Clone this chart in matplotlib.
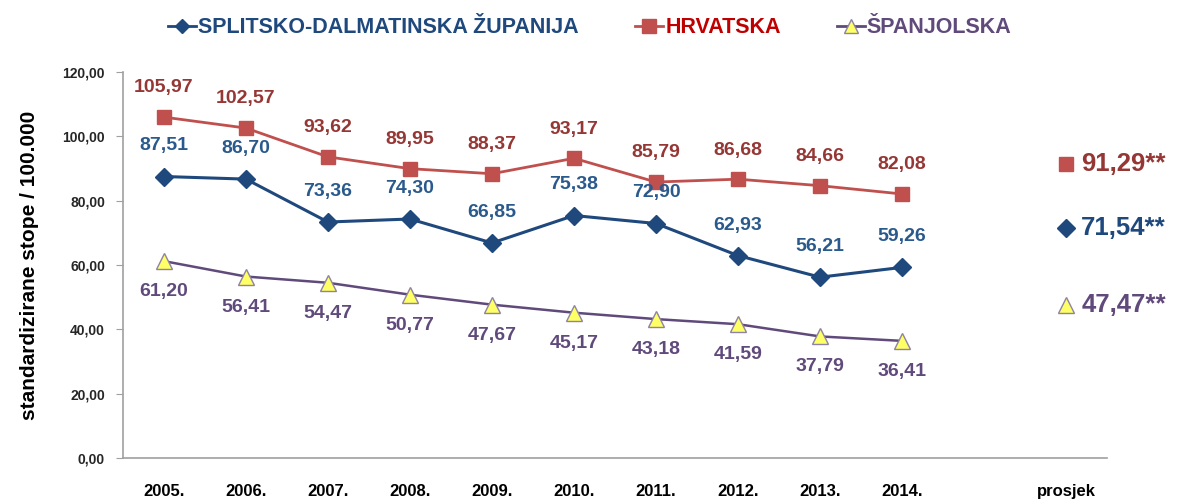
import matplotlib
matplotlib.use("Agg")
import matplotlib.pyplot as plt
from matplotlib.lines import Line2D

years = ["2005.", "2006.", "2007.", "2008.", "2009.", "2010.", "2011.", "2012.", "2013.", "2014."]
avg_label = "prosjek"
splitsko = [87.51, 86.70, 73.36, 74.30, 66.85, 75.38, 72.90, 62.93, 56.21, 59.26]
hrvatska = [105.97, 102.57, 93.62, 89.95, 88.37, 93.17, 85.79, 86.68, 84.66, 82.08]
spanjolska = [61.20, 56.41, 54.47, 50.77, 47.67, 45.17, 43.18, 41.59, 37.79, 36.41]
avg_splitsko = 71.54
avg_hrvatska = 91.29
avg_spanjolska = 47.47
names = ["SPLITSKO-DALMATINSKA ŽUPANIJA", "HRVATSKA", "ŠPANJOLSKA"]
yticks = [0, 20, 40, 60, 80, 100, 120]

FONT = ["Liberation Sans", "DejaVu Sans"]
plt.rcParams["font.family"] = FONT

blue = "#1F497D"
blue_txt = "#2A5A8C"
red = "#C0504D"
red_txt = "#953735"
purple = "#604A7B"
yellow = "#FFFF66"

fig = plt.figure(figsize=(11.87, 4.99), dpi=100)
ax = fig.add_axes([0.1036, 0.0822, 0.829, 0.7735])

x = list(range(len(years)))
avg_x = len(years) + 1

ax.plot(x, hrvatska, color=red, lw=2, marker="s", ms=10, mfc=red, mec=red, zorder=3)
ax.plot(x, splitsko, color=blue, lw=2.2, marker="D", ms=9, mfc=blue, mec=blue, zorder=3)
ax.plot(x, spanjolska, color=purple, lw=1.8, marker="^", ms=11, mfc=yellow, mec="#8E83A3", zorder=3)

fmt = lambda v: f"{v:.2f}".replace(".", ",")
lbl = dict(ha="center", va="center", fontsize=14, fontweight="bold", textcoords="offset points")
for xi, v in zip(x, hrvatska):
    ax.annotate(fmt(v), (xi, v), xytext=(0, 21), color=red_txt, **lbl)
for xi, v in zip(x, splitsko):
    ax.annotate(fmt(v), (xi, v), xytext=(0, 22), color=blue_txt, **lbl)
for xi, v in zip(x, spanjolska):
    ax.annotate(fmt(v), (xi, v), xytext=(0, -22), color=purple, **lbl)

# averages
for v, mk, fc, ec, tc, ms in [(avg_hrvatska, "s", red, red, red_txt, 10),
                              (avg_splitsko, "D", blue, blue, blue, 9),
                              (avg_spanjolska, "^", yellow, "#8E83A3", purple, 12)]:
    ax.plot([avg_x], [v], marker=mk, ms=ms, mfc=fc, mec=ec, ls="none", zorder=3, clip_on=False)
    ax.annotate(fmt(v) + "**", (avg_x, v), xytext=(11, 0), textcoords="offset points",
                ha="left", va="center", color=tc, fontsize=18.5, fontweight="bold",
                annotation_clip=False)

ax.set_xlim(-0.5, avg_x + 0.5)
ax.set_ylim(0, 120)
ax.set_yticks(yticks)
ax.set_yticklabels([fmt(t) for t in yticks], fontsize=10, fontweight="bold", color="#262626")
ax.set_xticks(x + [avg_x])
ax.set_xticklabels(years + [avg_label], fontsize=12, fontweight="bold")
ax.tick_params(axis="x", length=0, pad=19)
ax.tick_params(axis="y", length=5, color="#A0A0A0", direction="out", pad=8)
for s in ["top", "right"]:
    ax.spines[s].set_visible(False)
for s in ["left", "bottom"]:
    ax.spines[s].set_color("#A0A0A0")
    ax.spines[s].set_linewidth(1.2)

ax.set_ylabel("standardizirane stope / 100.000", fontsize=15, fontweight="bold")
ax.yaxis.set_label_coords(-0.085, 0.5)

handles = [
    Line2D([], [], color=blue, lw=2, marker="D", ms=7, mfc=blue, mec=blue),
    Line2D([], [], color=red, lw=2, marker="s", ms=10, mfc=red, mec=red),
    Line2D([], [], color=purple, lw=2, marker="^", ms=10, mfc=yellow, mec="#8E83A3"),
]
leg = fig.legend(handles, names, loc="center", bbox_to_anchor=(0.497, 0.944), ncol=3,
                 frameon=False, handlelength=1.3, handletextpad=0.1, columnspacing=2.6,
                 prop={"family": FONT, "weight": "bold", "size": 15.5})
for t, c in zip(leg.get_texts(), [blue, "#C00000", purple]):
    t.set_color(c)

fig.savefig("out.png", dpi=100)
